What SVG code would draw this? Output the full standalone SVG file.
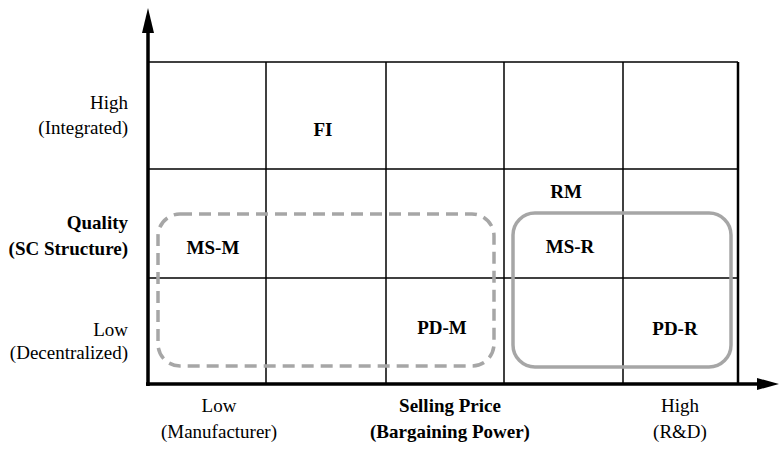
<svg xmlns="http://www.w3.org/2000/svg" width="779" height="450" viewBox="0 0 779 450">
<style>
.grid{stroke:#000;stroke-width:1.5;fill:none}
.axis{stroke:#000;stroke-width:3.5;fill:none}
text{font-family:'Liberation Serif','Times New Roman',Times,serif;font-size:19px;fill:#000}
.b{font-weight:bold}
.cell{font-weight:bold;text-anchor:middle}
.grp{fill:none;stroke:#a6a6a6;stroke-width:3.5}
</style>
<rect width="779" height="450" fill="#fff"/>
<g id="grid">
<line class="grid" x1="148" y1="62" x2="738" y2="62"/>
<line class="grid" x1="148" y1="169" x2="738" y2="169"/>
<line class="grid" x1="148" y1="278" x2="738" y2="278"/>
<line class="grid" x1="266" y1="62" x2="266" y2="384"/>
<line class="grid" x1="386" y1="62" x2="386" y2="384"/>
<line class="grid" x1="504" y1="62" x2="504" y2="384"/>
<line class="grid" x1="623" y1="62" x2="623" y2="384"/>
<line x1="738" y1="62" x2="738" y2="384" stroke="#000" stroke-width="2.5"/>
</g>
<g id="groups">
<rect id="group-m" class="grp" x="158" y="214" width="336" height="152" rx="22" stroke-dasharray="12 7"/>
<rect id="group-r" class="grp" x="513" y="213" width="218" height="154" rx="22"/>
</g>
<g id="axes">
<line class="axis" x1="148" y1="386" x2="148" y2="30"/>
<polygon points="148,8 142,33 154,33" fill="#000"/>
<line class="axis" x1="146" y1="384" x2="760" y2="384"/>
<polygon points="779,384 757,378 757,390" fill="#000"/>
</g>
<g font-family="Liberation Serif, Times New Roman, serif">
<g id="node-FI"><text class="cell" x="323" y="136">FI</text></g>
<g id="node-RM"><text class="cell" x="566" y="198">RM</text></g>
<g id="node-MS-M"><text class="cell" x="213" y="254">MS-M</text></g>
<g id="node-MS-R"><text class="cell" x="570" y="253">MS-R</text></g>
<g id="node-PD-M"><text class="cell" x="442" y="334">PD-M</text></g>
<g id="node-PD-R"><text class="cell" x="675" y="335">PD-R</text></g>
<g id="y-labels" text-anchor="end">
<text x="128" y="109">High</text>
<text x="128" y="134">(Integrated)</text>
<text class="b" x="128" y="229">Quality</text>
<text class="b" x="128" y="255">(SC Structure)</text>
<text x="128" y="336">Low</text>
<text x="128" y="359">(Decentralized)</text>
</g>
<g id="x-labels" text-anchor="middle">
<text x="219" y="412">Low</text>
<text x="219" y="438">(Manufacturer)</text>
<text class="b" x="450" y="412">Selling Price</text>
<text class="b" x="450" y="438">(Bargaining Power)</text>
<text x="680" y="412">High</text>
<text x="680" y="438">(R&amp;D)</text>
</g>
</g>
</svg>
